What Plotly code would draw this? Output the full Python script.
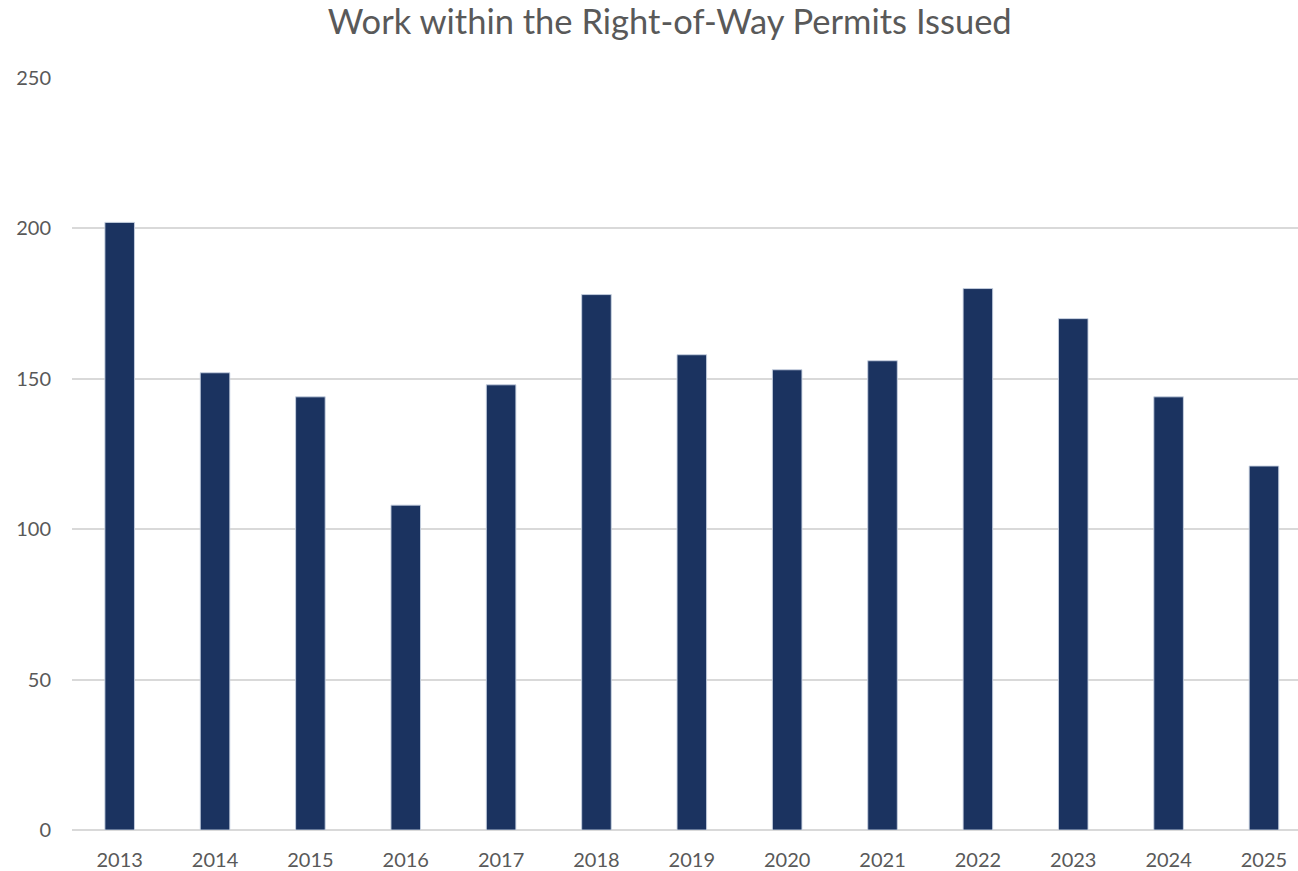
import plotly.graph_objects as go

years = ["2013", "2014", "2015", "2016", "2017", "2018", "2019",
         "2020", "2021", "2022", "2023", "2024", "2025"]
permits = [202, 152, 144, 108, 148, 178, 158, 153, 156, 180, 170, 144, 121]
y_ticks = [0, 50, 100, 150, 200, 250]

FONT = "Lato, 'Noto Sans', sans-serif"
GREY = "#595959"

fig = go.Figure(
    go.Bar(
        x=years,
        y=permits,
        width=0.31,
        marker=dict(color="#1B3360", line=dict(color="rgba(200,210,225,0.9)", width=1)),
    )
)

fig.update_layout(
    width=1298,
    height=871,
    paper_bgcolor="white",
    plot_bgcolor="white",
    margin=dict(l=72, r=0, t=78, b=41),
    showlegend=False,
    title=dict(
        text="Work within the Right-of-Way Permits Issued",
        x=0.516,
        xanchor="center",
        y=0.975,
        yanchor="middle",
        font=dict(family=FONT, size=34.5, color=GREY),
    ),
    font=dict(family=FONT, color=GREY),
)

fig.update_xaxes(
    type="category",
    range=[-0.5, 12.357],
    showgrid=False,
    showline=False,
    ticks="",
    tickfont=dict(size=20, color=GREY, family=FONT),
    ticklabelstandoff=16,
)
fig.update_yaxes(
    range=[0, 250],
    tickvals=y_ticks,
    showgrid=True,
    gridcolor="#D9D9D9",
    gridwidth=1.5,
    zeroline=True,
    zerolinecolor="#D9D9D9",
    zerolinewidth=1.5,
    showline=False,
    ticks="",
    tickfont=dict(size=20, color=GREY, family=FONT),
    ticklabelstandoff=20,
)

fig.write_html(
    "out.html",
    config={"displayModeBar": False},
    post_script="document.body.style.margin='0';document.body.style.overflow='hidden';",
)
